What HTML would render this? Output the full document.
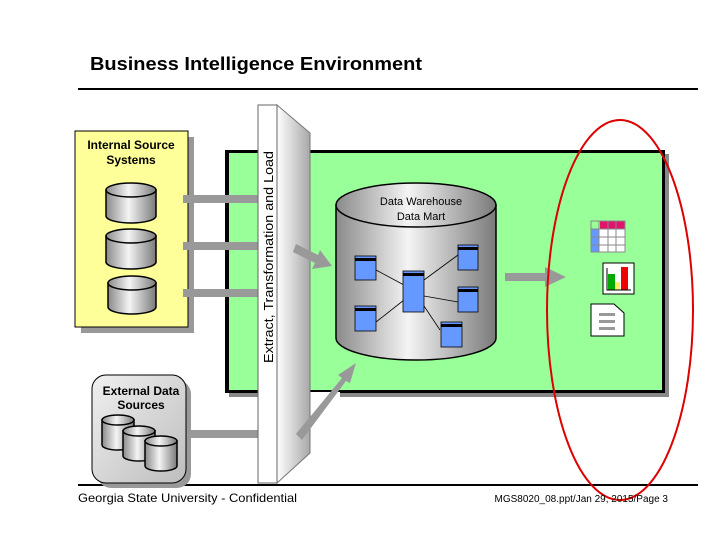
<!DOCTYPE html>
<html><head><meta charset="utf-8"><style>html,body{margin:0;padding:0;background:#fff}svg{display:block}</style></head><body>
<svg width="720" height="540" viewBox="0 0 720 540" xmlns="http://www.w3.org/2000/svg" font-family="Liberation Sans, Arial, sans-serif">
<defs>
<linearGradient id="cg" x1="0" x2="1" y1="0" y2="0">
<stop offset="0" stop-color="#8a8a8a"/><stop offset="0.45" stop-color="#f4f4f4"/><stop offset="1" stop-color="#7a7a7a"/>
</linearGradient>
<linearGradient id="pg" x1="0" x2="1" y1="0" y2="0">
<stop offset="0" stop-color="#ffffff"/><stop offset="1" stop-color="#a8a8a8"/>
</linearGradient>
<linearGradient id="eg" x1="0" x2="1" y1="0" y2="1">
<stop offset="0" stop-color="#f0f0f0"/><stop offset="1" stop-color="#bdbdbd"/>
</linearGradient>
</defs>
<text x="90" y="70" font-size="18" font-weight="bold" textLength="332" lengthAdjust="spacingAndGlyphs">Business Intelligence Environment</text>
<line x1="78" y1="89" x2="698" y2="89" stroke="#000" stroke-width="2"/>
<line x1="78" y1="485" x2="698" y2="485" stroke="#000" stroke-width="2"/>

<rect x="229" y="154" width="440" height="243" fill="#888"/>
<rect x="225" y="150" width="440" height="243" fill="#000"/>
<rect x="229" y="153" width="433" height="237" fill="#99ff99"/>
<rect x="310" y="392" width="30" height="60" fill="#fff"/>

<rect x="81" y="137" width="113" height="196" fill="#999"/>
<rect x="75" y="131" width="113" height="196" fill="#ffff99" stroke="#000" stroke-width="1"/>
<text x="131" y="149" font-size="12" font-weight="bold" text-anchor="middle">Internal Source</text>
<text x="131" y="164" font-size="12" font-weight="bold" text-anchor="middle">Systems</text>
<g stroke="#000" stroke-width="1.5" fill="url(#cg)">
<path d="M106 190 V216 A25 7 0 0 0 156 216 V190 Z"/><ellipse cx="131" cy="190" rx="25" ry="7"/>
<path d="M106 236 V262 A25 7 0 0 0 156 262 V236 Z"/><ellipse cx="131" cy="236" rx="25" ry="7"/>
<path d="M108 283 V307 A24 7 0 0 0 156 307 V283 Z"/><ellipse cx="132" cy="283" rx="24" ry="7"/>
</g>
<g fill="#999">
<rect x="183" y="195" width="76" height="8"/>
<rect x="183" y="242" width="76" height="8"/>
<rect x="183" y="289" width="76" height="8"/>
<rect x="180" y="430" width="79" height="8"/>
</g>

<rect x="97" y="380" width="94" height="108" rx="14" fill="#999"/>
<rect x="92" y="375" width="94" height="108" rx="14" fill="url(#eg)" stroke="#000"/>
<text x="141" y="395" font-size="12" font-weight="bold" text-anchor="middle">External Data</text>
<text x="141" y="409" font-size="12" font-weight="bold" text-anchor="middle">Sources</text>
<g stroke="#000" stroke-width="1.5" fill="url(#cg)">
<path d="M102 420 V445 A16 5 0 0 0 134 445 V420 Z"/><ellipse cx="118" cy="420" rx="16" ry="5"/>
<path d="M123 431 V456 A16 5 0 0 0 155 456 V431 Z"/><ellipse cx="139" cy="431" rx="16" ry="5"/>
<path d="M145 441 V466 A16 5 0 0 0 177 466 V441 Z"/><ellipse cx="161" cy="441" rx="16" ry="5"/>
</g>

<polygon points="277,105 310,133 310,453 277,483" fill="url(#pg)" stroke="#777" stroke-width="1"/>
<rect x="258" y="105" width="19" height="378" fill="#fff" stroke="#666" stroke-width="1"/>
<text transform="translate(273,363) rotate(-90)" font-size="13" textLength="212" lengthAdjust="spacingAndGlyphs">Extract, Transformation and Load</text>

<g fill="#999">
<polygon points="296,244 318,255 320,250 332,266 312,269 315,263 293,252"/>
<polygon points="296,434 342,378 338,375 356,363 350,383 346,381 302,440"/>
<polygon points="505,273 545,273 545,267 566,277 545,287 545,281 505,281"/>
</g>

<g stroke="#000" stroke-width="1.5">
<path d="M336 205 V338 A80 22 0 0 0 496 338 V205 Z" fill="url(#cg)"/>
<ellipse cx="416" cy="205" rx="80" ry="22" fill="url(#cg)"/>
</g>
<text x="421" y="205" font-size="11" text-anchor="middle">Data Warehouse</text>
<text x="421" y="220" font-size="11" text-anchor="middle">Data Mart</text>
<g stroke="#000" stroke-width="0.8">
<line x1="376" y1="270" x2="404" y2="285"/><line x1="376" y1="322" x2="404" y2="300"/>
<line x1="424" y1="280" x2="458" y2="255"/><line x1="424" y1="296" x2="458" y2="302"/>
<line x1="424" y1="306" x2="440" y2="330"/>
</g>
<g fill="#6699ff" stroke="#000" stroke-width="0.8">
<rect x="355" y="256" width="21" height="24"/><rect x="355" y="306" width="21" height="25"/>
<rect x="403" y="271" width="21" height="41"/><rect x="458" y="245" width="20" height="25"/>
<rect x="458" y="287" width="20" height="25"/><rect x="441" y="322" width="21" height="25"/>
</g>
<g fill="#000">
<rect x="355" y="258" width="21" height="3"/><rect x="355" y="308" width="21" height="3"/>
<rect x="403" y="273" width="21" height="3"/><rect x="458" y="247" width="20" height="3"/>
<rect x="458" y="289" width="20" height="3"/><rect x="441" y="324" width="21" height="3"/>
</g>

<rect x="600" y="221" width="25" height="8" fill="#e0146a"/>
<rect x="591" y="229" width="8" height="23" fill="#6699ff"/>
<rect x="599" y="229" width="26" height="23" fill="#fff"/>
<g stroke="#888" stroke-width="1" fill="none">
<rect x="591" y="221" width="34" height="31"/>
<line x1="599" y1="221" x2="599" y2="252"/><line x1="608" y1="221" x2="608" y2="252"/><line x1="616" y1="221" x2="616" y2="252"/>
<line x1="591" y1="229" x2="625" y2="229"/><line x1="591" y1="237" x2="625" y2="237"/><line x1="591" y1="245" x2="625" y2="245"/>
</g>
<rect x="603" y="263" width="31" height="31" fill="#fff" stroke="#000"/>
<rect x="608" y="274" width="7" height="16" fill="#00aa00"/>
<rect x="615" y="282" width="5" height="8" fill="#ffee66"/>
<rect x="621" y="267" width="7" height="23" fill="#ee0000"/>
<polyline points="607,268 607,290 631,290" fill="none" stroke="#000"/>
<path d="M591 304 H614 L624 313 V336 H591 Z" fill="#fff" stroke="#000"/>
<g fill="#999"><rect x="599" y="313" width="16" height="3"/><rect x="599" y="320" width="16" height="3"/><rect x="599" y="327" width="16" height="3"/></g>

<ellipse cx="620" cy="310" rx="73" ry="190" fill="none" stroke="#dd0000" stroke-width="2"/>

<text x="78" y="502" font-size="12" textLength="219" lengthAdjust="spacingAndGlyphs">Georgia State University - Confidential</text>
<text x="668" y="502" font-size="10" text-anchor="end">MGS8020_08.ppt/Jan 29, 2015/Page 3</text>
</svg>
</body></html>
